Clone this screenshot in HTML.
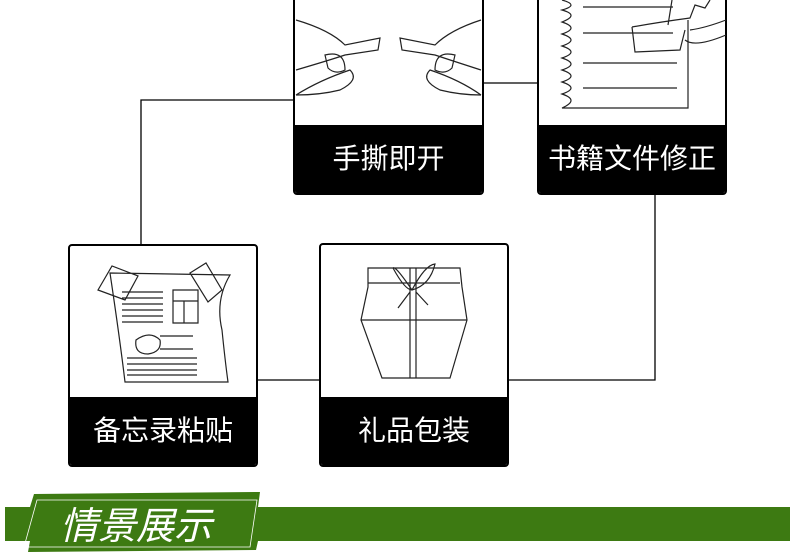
<!DOCTYPE html>
<html><head><meta charset="utf-8"><style>
body{margin:0;width:790px;height:553px;background:#fff;position:relative;overflow:hidden;font-family:"Liberation Sans","Noto Sans CJK SC",sans-serif}
.card{position:absolute;border:2px solid #000;border-radius:4px;background:#fff;box-sizing:border-box;overflow:hidden}
.lab{position:absolute;left:0;right:0;bottom:0;height:68px;background:#000;color:#fff;font-size:28px;text-align:center;line-height:68px}
svg{position:absolute;left:0;top:0}
</style></head><body>
<svg width="790" height="553" fill="none" stroke="#000" stroke-width="1.3">
<path d="M141 244V100H294M483 83H537M655 194V380H508M257 380H319"/>
</svg>
<div class="card" style="left:293px;top:-10px;width:191px;height:205px"><div class="lab">手撕即开</div></div>
<div class="card" style="left:537px;top:-10px;width:190px;height:205px"><div class="lab">书籍文件修正</div></div>
<div class="card" style="left:68px;top:244px;width:190px;height:223px"><div class="lab">备忘录粘贴</div></div>
<div class="card" style="left:319px;top:243px;width:190px;height:224px"><div class="lab">礼品包装</div></div>
<svg width="790" height="553" fill="none" stroke="#222" stroke-width="1.2">
<path d="M296 20Q330 30 345 45L380 38 378 50 345 55Q330 60 296 70M296 95Q320 80 350 70 360 80 340 90 320 95 296 95M325 55Q345 50 345 70 335 75 328 68Z"/>
<path d="M481 20Q450 30 435 45L400 38 402 50 435 55Q450 60 481 70M481 95Q460 80 430 70 420 80 440 90 460 95 481 95M455 55Q435 50 435 70 445 75 452 68Z"/>
<path d="M562 0Q580 5 562 10Q580 15 562 22Q580 28 562 34Q580 40 562 46Q580 52 562 58Q580 64 562 70Q580 76 562 82Q580 88 562 94Q580 100 562 108H688V20"/>
<path d="M583 7H673M583 33H673M583 63H677M583 88H677M632 27Q660 22 690 18L695 5 705 8 710 0M632 27L635 52 680 50 685 30M672 0L668 25M690 30Q705 28 726 20M685 40Q695 48 726 35"/>
<path d="M110 273L230 275Q215 300 222 330 225 360 228 382L125 382Q120 340 110 273ZM98 290L112 266 138 276 125 300ZM190 273L206 263 222 290 208 302Z"/>
<path d="M122 292H163M122 298H163M122 304H163M122 310H163M122 316H163M122 322H163M173 290H198V323H173ZM173 301H198M184 301V323M136 340Q150 330 160 340 162 352 148 354 134 354 136 340ZM160 336H193M160 349H193M127 358H197M127 364H197M127 370H197M127 375H197"/>
<path d="M368 268H460L462 287 467 320 450 378H382L361 320 368 287ZM368 283H460M361 320H467M410 268V378M416 268V378M412 290Q395 265 393 268 405 290 412 290Q425 265 435 264 430 285 412 290ZM410 292L398 308M416 292L428 305"/>
</svg>
<svg width="790" height="553">
<path d="M5 507H30L34 494 260 492 258 507H790V541H258L256 550 28 552 30 541H5Z" fill="#3d7a12"/>
<path d="M37 500H257L250 547H24Z" fill="none" stroke="#fff" stroke-width="0.8"/>
<text x="60" y="539" fill="#fff" font-size="38" font-family="Noto Sans CJK SC,sans-serif" font-style="italic">情景展示</text>
</svg>
</body></html>
